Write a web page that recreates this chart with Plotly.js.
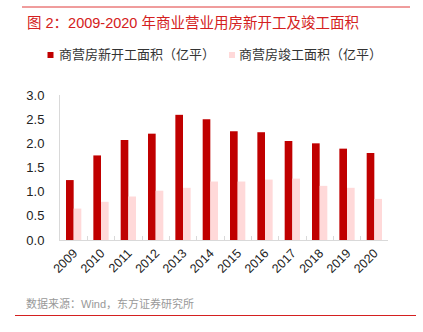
<!DOCTYPE html>
<html><head><meta charset="utf-8">
<script src="https://cdn.plot.ly/plotly-3.0.1.min.js"></script>
<style>html,body{margin:0;padding:0;background:#fff}#chart{width:423px;height:332px}
#chart text{text-spacing-trim:space-all;font-feature-settings:"chws" 0,"halt" 0,"palt" 0;}</style>
</head><body><div id="chart"></div>
<script>
const years = ["2009","2010","2011","2012","2013","2014","2015","2016","2017","2018","2019","2020"];
const newStart = [1.24,1.75,2.07,2.20,2.59,2.50,2.25,2.23,2.05,2.00,1.89,1.80];
const completed = [0.65,0.79,0.90,1.02,1.08,1.21,1.21,1.25,1.27,1.12,1.08,0.85];
const seriesNames = ["商营房新开工面积（亿平）","商营房竣工面积（亿平）"];
const seriesColors = ["#C00000","#FFD9D9"];
const titleText = "图 2：2009-2020 年商业营业用房新开工及竣工面积";
const sourceText = "数据来源：Wind，东方证券研究所";

const L=60, R=35, T=95, B=92, W=423, H=332;
const pw=W-L-R, ph=H-T-B;
const px = x => (x-L)/pw;
const py = y => (H-B-y)/ph;
const cjk = '"Liberation Sans", "Noto Sans CJK SC", sans-serif';

const traces = [
  {type:'bar', x:years, y:newStart, name:seriesNames[0], marker:{color:seriesColors[0]}},
  {type:'bar', x:years, y:completed, name:seriesNames[1], marker:{color:seriesColors[1]}}
];

const layout = {
  width:W, height:H, margin:{l:L,r:R,t:T,b:B},
  paper_bgcolor:'#fff', plot_bgcolor:'#fff',
  showlegend:false, barmode:'group', bargap:0.44, bargroupgap:0,
  xaxis:{type:'category', showline:true, linecolor:'#D9D9D9', linewidth:1,
    ticks:'inside', tickson:'boundaries', ticklen:4, tickcolor:'#D9D9D9',
    tickangle:-45, tickfont:{family:'"Liberation Sans", Arial, sans-serif', size:12.5, color:'#222'},
    showgrid:false, zeroline:false},
  yaxis:{range:[0,3], dtick:0.5, tickformat:'.1f', showline:true, linecolor:'#D9D9D9', linewidth:1,
    ticks:'', showgrid:false, zeroline:false, ticklabelstandoff:12,
    tickfont:{family:'"Liberation Sans", Arial, sans-serif', size:13, color:'#222'}},
  shapes:[
    {type:'line', xref:'paper', yref:'paper', x0:px(22), x1:px(410), y0:py(7), y1:py(7), line:{color:'#E03A3A', width:1}},
    {type:'line', xref:'paper', yref:'paper', x0:px(15), x1:px(416), y0:py(315.5), y1:py(315.5), line:{color:'#D42020', width:1}},
    {type:'rect', xref:'paper', yref:'paper', x0:px(47.5), x1:px(53.5), y0:py(58), y1:py(52), fillcolor:seriesColors[0], line:{width:0}},
    {type:'rect', xref:'paper', yref:'paper', x0:px(229), x1:px(235), y0:py(58), y1:py(52), fillcolor:seriesColors[1], line:{width:0}}
  ],
  annotations:[
    {xref:'paper', yref:'paper', x:px(25), y:py(23), xanchor:'left', yanchor:'middle', showarrow:false,
     text:titleText, font:{family:cjk, size:14.5, color:'#D42020'}},
    {xref:'paper', yref:'paper', x:px(57), y:py(55), xanchor:'left', yanchor:'middle', showarrow:false,
     text:seriesNames[0], font:{family:cjk, size:13, color:'#333'}},
    {xref:'paper', yref:'paper', x:px(237), y:py(55), xanchor:'left', yanchor:'middle', showarrow:false,
     text:seriesNames[1], font:{family:cjk, size:13, color:'#333'}},
    {xref:'paper', yref:'paper', x:px(24), y:py(303), xanchor:'left', yanchor:'middle', showarrow:false,
     text:sourceText, font:{family:cjk, size:11, color:'#999'}}
  ]
};
Plotly.newPlot('chart', traces, layout, {staticPlot:true, displayModeBar:false});
</script></body></html>
